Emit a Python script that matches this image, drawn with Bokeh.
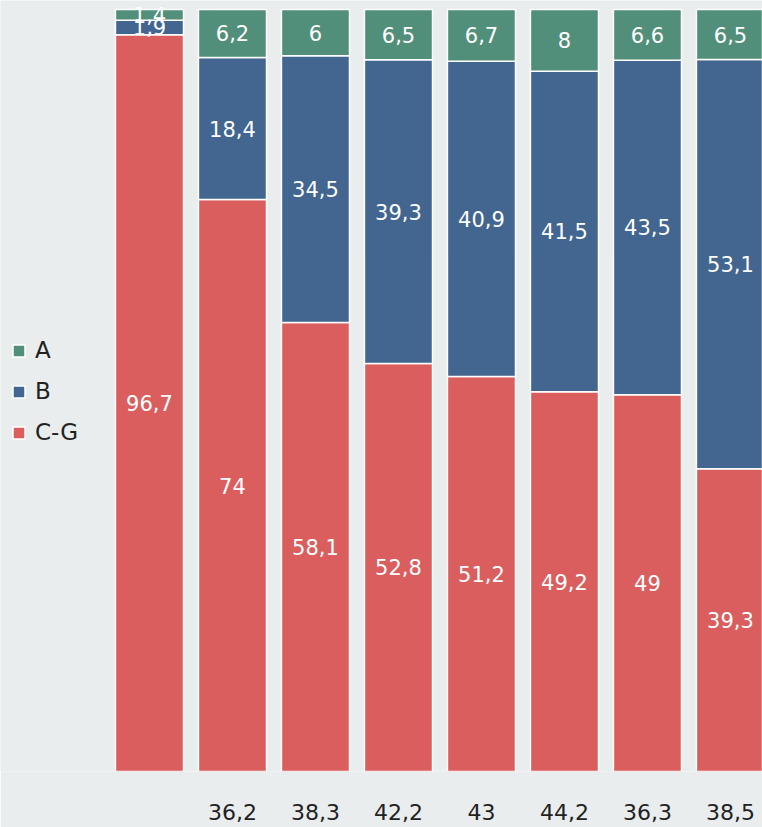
import numpy as np
from bokeh.plotting import figure
from bokeh.models import ColumnDataSource, Legend, LegendItem, Range1d, FixedTicker
from bokeh.core.properties import value
from bokeh.embed import file_html
from bokeh.resources import INLINE

# ---- data ----
categories = ["", "36,2", "38,3", "42,2", "43", "44,2", "36,3", "38,5"]
series_names = ["A", "B", "C-G"]
a_vals = [1.4, 6.2, 6.0, 6.5, 6.7, 8.0, 6.6, 6.5]
b_vals = [1.9, 18.4, 34.5, 39.3, 40.9, 41.5, 43.5, 53.1]
cg_vals = [96.7, 74.0, 58.1, 52.8, 51.2, 49.2, 49.0, 39.3]

colors = {"A": "#528F7A", "B": "#42668F", "C-G": "#DA5E5E"}
BG = "#E9EDED"
FONT = "DejaVu Sans"

a = np.array(a_vals)
b = np.array(b_vals)
cg = np.array(cg_vals)
total = a + b + cg
a_p = a / total * 100
b_p = b / total * 100
cg_p = cg / total * 100
x = list(range(len(categories)))

src = ColumnDataSource(dict(x=x, cg=cg_p, b=b_p, a=a_p))

p = figure(width=762, height=827,
           output_backend="svg", toolbar_location=None,
           x_range=Range1d(-1.795, 7.386), y_range=Range1d(0, 101.18),
           min_border=0, min_border_bottom=56)
p.background_fill_color = BG
p.border_fill_color = BG
p.outline_line_color = None
p.grid.visible = False
p.yaxis.visible = False

rs = p.vbar_stack(["cg", "b", "a"], x="x", width=0.82, source=src,
                  color=[colors["C-G"], colors["B"], colors["A"]],
                  line_color="white", line_width=1.5)

# labels
def fmt(v):
    s = ("%.1f" % v).rstrip("0").rstrip(".")
    return s.replace(".", ",")

lx, ly, lt = [], [], []
for i in range(len(categories)):
    base = 0.0
    for pct, raw in ((cg_p[i], cg_vals[i]), (b_p[i], b_vals[i]), (a_p[i], a_vals[i])):
        lx.append(i)
        ly.append(base + pct / 2)
        lt.append(fmt(raw))
        base += pct
lsrc = ColumnDataSource(dict(x=lx, y=ly, t=lt))
p.text(x="x", y="y", text="t", source=lsrc, text_color="white",
       text_font=value(FONT), text_font_size="21px",
       text_align="center", text_baseline="middle")

# x axis
xa = p.xaxis[0]
xa.ticker = FixedTicker(ticks=x)
xa.major_label_overrides = {i: c for i, c in enumerate(categories)}
xa.axis_line_color = None
xa.major_tick_line_color = None
xa.minor_tick_line_color = None
xa.major_label_text_font = FONT
xa.major_label_text_font_size = "22px"
xa.major_label_text_color = "#222222"
xa.major_label_standoff = 26

legend = Legend(items=[LegendItem(label="A", renderers=[rs[2]]),
                       LegendItem(label="B", renderers=[rs[1]]),
                       LegendItem(label="C-G", renderers=[rs[0]])],
                location=(11, 326))
legend.background_fill_alpha = 0
legend.border_line_color = None
legend.padding = 0
legend.margin = 0
legend.glyph_width = 15
legend.glyph_height = 15
legend.label_text_font = FONT
legend.label_text_font_size = "23px"
legend.label_text_color = "#222222"
legend.label_standoff = 9
legend.spacing = 15
p.add_layout(legend)

open("out.html", "w").write(file_html(p, INLINE))
